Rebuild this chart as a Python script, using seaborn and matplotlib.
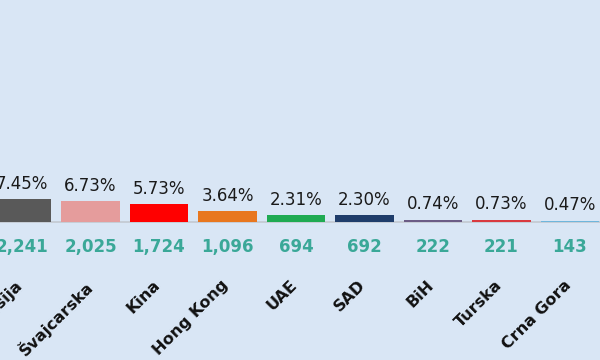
import matplotlib
matplotlib.use("Agg")
import matplotlib.pyplot as plt
import seaborn as sns
import pandas as pd

countries = ["Rusija", "Švajcarska", "Kina", "Hong Kong", "UAE", "SAD", "BiH", "Turska", "Crna Gora"]
shares = [7.45, 6.73, 5.73, 3.64, 2.31, 2.30, 0.74, 0.73, 0.47]
counts = [2241, 2025, 1724, 1096, 694, 692, 222, 221, 143]
colors = ["#595959", "#e59c9c", "#ff0000", "#e8771f", "#1faa52", "#1f3d6b", "#6b5c85", "#d93a40", "#6fb6dc"]

BG = "#d9e6f5"
sns.set_theme(style="white")
plt.rcParams["font.family"] = ["DejaVu Sans"]

df = pd.DataFrame({"country": countries, "share": shares})

fig = plt.figure(figsize=(6, 3.6), dpi=100)
fig.patch.set_facecolor(BG)
ax = fig.add_axes([0, 0, 1, 1])
ax.set_facecolor(BG)

ax.axhline(0, color="#c3c8d0", lw=1.2, zorder=0)

sns.barplot(data=df, x="country", y="share", hue="country", palette=colors,
            legend=False, width=0.85, ax=ax, saturation=1, linewidth=0,
            edgecolor="none", zorder=2)

for i, (s, c, name) in enumerate(zip(shares, counts, countries)):
    ax.annotate(f"{s:.2f}%", (i, s), xytext=(0, 4.5), textcoords="offset points",
                ha="center", va="bottom", fontsize=12, color="#1a1a1a")
    ax.annotate(f"{c:,}", (i, 0), xytext=(0, -18), textcoords="offset points",
                ha="center", va="center", fontsize=12, fontweight="bold", color="#3aa898")
    ax.annotate(name, (i, 0), xytext=(-5, -40), textcoords="offset points",
                ha="right", va="top", rotation=45, rotation_mode="anchor",
                fontsize=11.5, fontweight="bold", color="#111111")

xmin = -0.321
ax.set_xlim(xmin, xmin + 600 / 68.5)
ppu = 3.09
ax.set_ylim(-138 / ppu, (360 - 138) / ppu)
ax.set_axis_off()

fig.savefig("out.png", dpi=100, facecolor=BG)
